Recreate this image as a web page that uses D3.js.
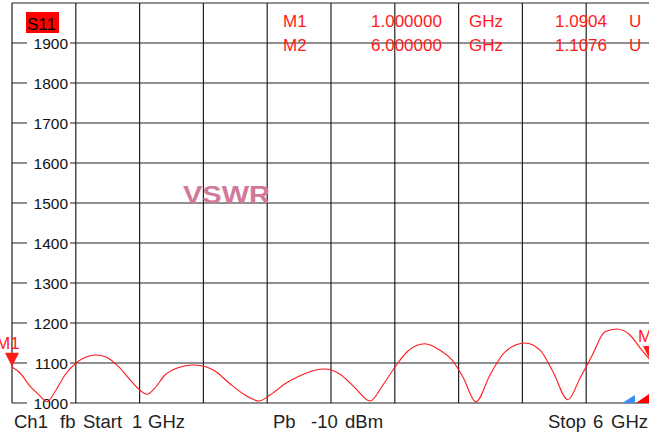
<!DOCTYPE html>
<html>
<head>
<meta charset="utf-8">
<script src="https://cdn.jsdelivr.net/npm/d3@7"></script>
<style>
  body { margin: 0; background: #fff; }
  svg { display: block; font-family: "Liberation Sans", Arial, sans-serif; }
</style>
</head>
<body>
<svg width="649" height="435"></svg>
<script>
// S11 VSWR sweep, 1 - 6 GHz, values in mU (1000 = 1.000)
const freqs = [1.000, 1.063, 1.141, 1.219, 1.274, 1.337, 1.415, 1.502, 1.580, 1.658,
    1.737, 1.831, 1.925, 2.003, 2.058, 2.121, 2.199, 2.301, 2.411, 2.505,
    2.591, 2.708, 2.826, 2.936, 3.022, 3.140, 3.257, 3.375, 3.453, 3.571,
    3.688, 3.806, 3.907, 4.002, 4.103, 4.237, 4.354, 4.448, 4.534, 4.636,
    4.746, 4.864, 5.020, 5.138, 5.240, 5.357, 5.451, 5.545, 5.647, 5.741,
    5.843, 5.922, 6.000];
const vswr = [1090, 1075, 1042, 1018, 1003, 1028, 1070, 1100, 1115, 1120,
    1115, 1092, 1058, 1032, 1022, 1038, 1070, 1088, 1095, 1092,
    1080, 1048, 1020, 1005, 1020, 1048, 1068, 1082, 1085, 1072,
    1038, 1005, 1045, 1090, 1130, 1148, 1132, 1108, 1065, 1003,
    1070, 1128, 1150, 1132, 1078, 1008, 1062, 1118, 1178, 1185,
    1170, 1138, 1108];
const yTicks = [1000, 1100, 1200, 1300, 1400, 1500, 1600, 1700, 1800, 1900];
const markers = [
    { name: 'M1', f: 1.0, v: 1090.4, freqText: '1.000000', valText: '1.0904', dx: -16 },
    { name: 'M2', f: 6.0, v: 1107.6, freqText: '6.000000', valText: '1.1076', dx: -12 }
];

const svg = d3.select('svg');
const red = '#ff1a1a';

const x = d3.scaleLinear().domain([1, 6]).range([12, 650]);
const y = d3.scaleLinear().domain([1000, 2000]).range([403, 3]);

// grid
const grid = svg.append('g').attr('stroke', '#222').attr('stroke-width', 1.2);
grid.selectAll('.vl')
    .data(d3.range(1, 6.01, 0.5))
    .enter().append('line')
      .attr('x1', (d) => x(d)).attr('x2', (d) => x(d))
      .attr('y1', y(2000)).attr('y2', y(1000));
grid.selectAll('.hl')
    .data(d3.range(1000, 2001, 100))
    .enter().append('line')
      .attr('x1', x(1)).attr('x2', 649)
      .attr('y1', (d) => y(d)).attr('y2', (d) => y(d));

// y labels with white backing
const ylab = svg.append('g');
ylab.selectAll('rect')
    .data(yTicks)
    .enter().append('rect')
      .attr('x', 27).attr('width', 43)
      .attr('y', (d) => y(d) - 8).attr('height', 16)
      .attr('fill', '#fff');
ylab.selectAll('text')
    .data(yTicks)
    .enter().append('text')
      .attr('x', 68).attr('y', (d) => y(d) + 5.5)
      .attr('text-anchor', 'end')
      .attr('font-size', 15.5)
      .attr('fill', '#111')
      .text((d) => d);

// S11 tag
svg.append('rect').attr('x', 26).attr('y', 12).attr('width', 33).attr('height', 21).attr('fill', '#ff0000');
svg.append('text').attr('x', 27).attr('y', 30).attr('font-size', 17).attr('fill', '#000').text('S11');

// VSWR watermark
svg.append('text')
    .attr('x', 183).attr('y', 203)
    .attr('font-size', 24).attr('font-weight', 'bold')
    .attr('textLength', 87).attr('lengthAdjust', 'spacingAndGlyphs')
    .attr('fill', '#d27898')
    .text('VSWR');

// trace
const line = d3.line()
    .x((d, i) => x(freqs[i]))
    .y((d) => y(d))
    .curve(d3.curveMonotoneX);
svg.append('path')
    .datum(vswr)
    .attr('d', line)
    .attr('fill', 'none')
    .attr('stroke', red)
    .attr('stroke-width', 1.1);

// marker table
const table = svg.append('g').attr('fill', red).attr('font-size', 17);
markers.forEach((m, i) => {
    let by = 27 + i * 24;
    table.append('text').attr('x', 283).attr('y', by).text(m.name);
    table.append('text').attr('x', 371).attr('y', by).text(m.freqText);
    table.append('text').attr('x', 469).attr('y', by).text('GHz');
    table.append('text').attr('x', 555).attr('y', by).text(m.valText);
    table.append('text').attr('x', 629).attr('y', by).text('U');
});

// marker triangles on trace (labels clip at the screen edge like the analyzer)
markers.forEach((m) => {
    let mx = x(m.f), my = y(m.v);
    svg.append('path')
        .attr('d', `M${mx - 7},${my - 14}L${mx + 7},${my - 14}L${mx},${my}Z`)
        .attr('fill', red);
    svg.append('text')
        .attr('x', mx + m.dx).attr('y', my - 18)
        .attr('font-size', 17).attr('fill', red)
        .text(m.name);
});

// scale indicators bottom right
svg.append('path').attr('d', 'M622,403L635,403L635,395Z').attr('fill', '#3a8ef0');
svg.append('path').attr('d', 'M636,403L649,403L649,394Z').attr('fill', '#ff0000');

// footer
const foot = svg.append('g').attr('font-size', 18.5).attr('fill', '#222');
[['Ch1', 14], ['fb', 60], ['Start', 83], ['1', 132], ['GHz', 148],
 ['Pb', 273], ['-10', 311], ['dBm', 345],
 ['Stop', 548], ['6', 593], ['GHz', 611]].forEach((t) => {
    foot.append('text').attr('x', t[1]).attr('y', 428).text(t[0]);
});
</script>
</body>
</html>
